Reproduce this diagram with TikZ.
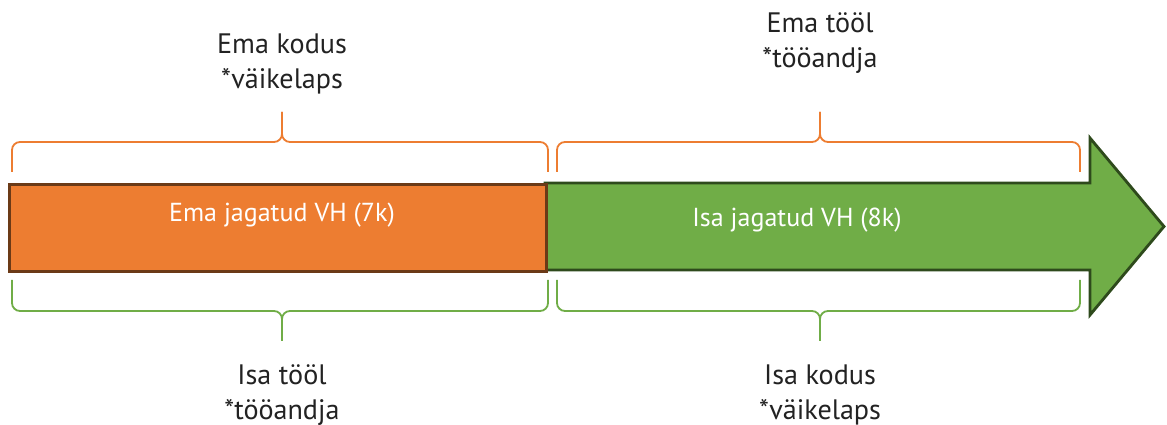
\documentclass[tikz,border=0pt]{standalone}
\usepackage{fontspec}
\setmainfont{PT Sans}
\definecolor{emaorange}{HTML}{ED7D31}
\definecolor{emaborder}{HTML}{6B3A17}
\definecolor{isagreen}{HTML}{70AD47}
\definecolor{isaborder}{HTML}{2E4A1C}
\definecolor{labeltext}{HTML}{222222}
\begin{document}
\begin{tikzpicture}[
x=0.025cm, y=-0.025cm,
label/.style={
text=labeltext,
align=center,
font=\fontsize{20}{25}\selectfont
},
bartext/.style={
text=white,
font=\fontsize{18.5}{22}\selectfont
},
obrace/.style={draw=emaorange, line width=1.3pt, rounded corners=0.2cm},
gbrace/.style={draw=isagreen, line width=1.3pt, rounded corners=0.2cm}
]
\useasboundingbox (0,0) rectangle (1167,425);

% green arrow (Isa)
\filldraw[fill=isagreen, draw=isaborder, line width=2pt, line join=miter]
(545,183) -- (1090,183) -- (1090,138) -- (1164,226.5) -- (1090,315) -- (1090,270) -- (545,270) -- cycle;
% orange bar (Ema)
\node[draw=emaborder, fill=emaorange, line width=2pt, minimum width=537*0.025cm, minimum height=87*0.025cm, anchor=north west, inner sep=0] (emabar) at (8,183) {};

\node[bartext] (emavh) at (282,215) {Ema jagatud VH (7k)};
\node[bartext] (isavh) at (797,220) {Isa jagatud VH (8k)};

% braces above
\draw[obrace] (12,172) |- (282,142) -- (282,112);
\draw[obrace] (548,172) |- (282,142) -- (282,112);
\draw[obrace] (557,172) |- (820,142) -- (820,112);
\draw[obrace] (1080,172) |- (820,142) -- (820,112);

% braces below
\draw[gbrace] (12,280) |- (282,311) -- (282,341);
\draw[gbrace] (548,280) |- (282,311) -- (282,341);
\draw[gbrace] (557,280) |- (820,311) -- (820,341);
\draw[gbrace] (1080,280) |- (820,311) -- (820,341);

\node[label] (emakodus) at (282,64) {Ema kodus\\*väikelaps};
\node[label] (ematool) at (820,43) {Ema tööl\\*tööandja};
\node[label] (isatool) at (282,395) {Isa tööl\\*tööandja};
\node[label] (isakodus) at (820,395) {Isa kodus\\*väikelaps};

\end{tikzpicture}
\end{document}
